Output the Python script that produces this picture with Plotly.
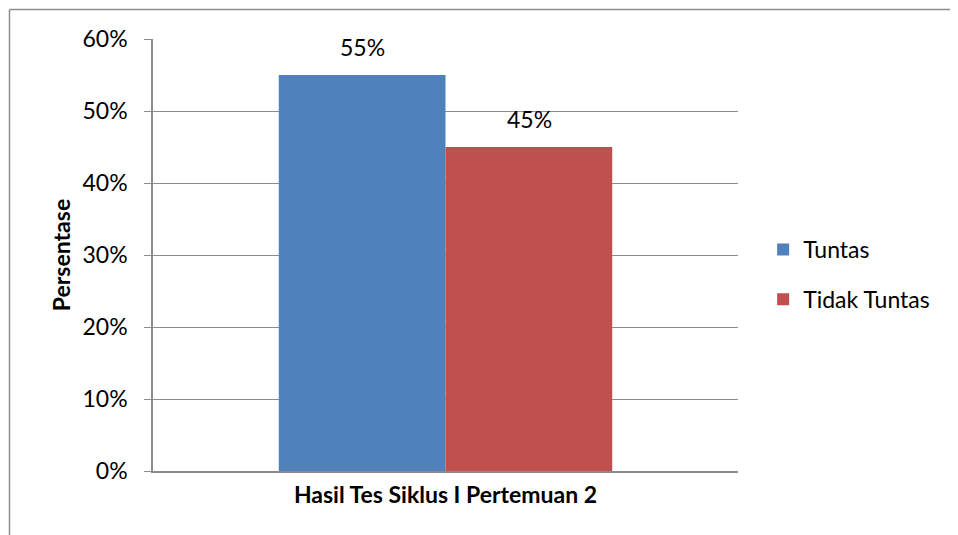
import plotly.graph_objects as go

kategori = ['Hasil Tes Siklus I Pertemuan 2']
seri = ['Tuntas', 'Tidak Tuntas']
nilai = [0.55, 0.45]
warna = ['#4F81BD', '#C0504D']
label = ['55%', '45%']

FONT = 'Lato, sans-serif'

fig = go.Figure()
for s, v, c in zip(seri, nilai, warna):
    fig.add_trace(go.Bar(x=kategori, y=[v], name=s, marker=dict(color=c, line=dict(width=0)),
                         legendgroup=s))

# label data di atas batang
for i, (v, t) in enumerate(zip(nilai, label)):
    fig.add_annotation(x=kategori[0], y=v, text=t, showarrow=False, yanchor='bottom',
                       xshift=(-83.5 if i == 0 else 83.5), yshift=12,
                       font=dict(family=FONT, size=23, color='#000'))

# bingkai (kiri & atas)
fig.add_shape(type='line', xref='paper', yref='paper', x0=-0.2453, x1=-0.2453, y0=1.0683, y1=-0.2,
              line=dict(color='#8c8c8c', width=1.5))
fig.add_shape(type='line', xref='paper', yref='paper', x0=-0.2453, x1=1.4, y0=1.0683, y1=1.0683,
              line=dict(color='#8c8c8c', width=1.5))

fig.update_layout(
    width=950, height=527,
    margin=dict(l=145, r=220, t=31, b=64),
    paper_bgcolor='white', plot_bgcolor='white',
    barmode='group', bargap=0.43, bargroupgap=0,
    font=dict(family=FONT, size=23, color='#000'),
    legend=dict(x=1.043, y=0.455, xanchor='left', yanchor='middle', font=dict(size=23),
                traceorder='grouped', tracegroupgap=17),
    xaxis=dict(showline=True, linecolor='#8c8c8c', linewidth=1.5, ticks='',
               tickfont=dict(size=23, color='#000', family=FONT, weight='bold'),
               ticklabelstandoff=3),
    yaxis=dict(range=[0, 0.6], dtick=0.1, tickformat='.0%', showgrid=True, gridcolor='#8c8c8c',
               gridwidth=1, showline=True, linecolor='#8c8c8c', linewidth=1.5, ticks='outside',
               ticklen=7, tickcolor='#8c8c8c', zeroline=False, ticklabelstandoff=12,
               title=dict(text='<b>Persentase</b>', font=dict(size=23), standoff=5)),
)

fig.write_html('out.html')
